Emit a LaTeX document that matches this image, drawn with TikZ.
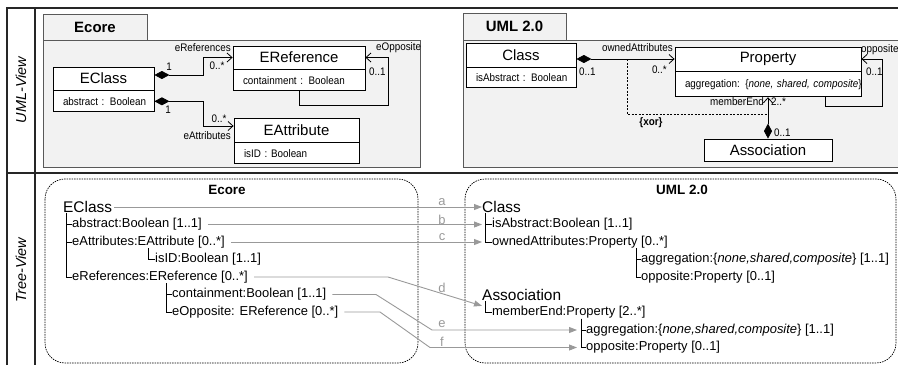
\documentclass[tikz,border=0pt]{standalone}
\usepackage{fontspec}
\setmainfont{Liberation Sans}
\newfontfamily\umlfont[FakeStretch=0.9]{Liberation Sans}
\usepackage{tikz}
\usetikzlibrary{arrows.meta,positioning}

\begin{document}
\begin{tikzpicture}[x=1bp,y=-1bp,
  frame/.style={line width=1.3bp,black!85},
  pkgbody/.style={draw=black!65,fill=black!5,line width=0.7bp},
  pkgtab/.style={draw=black!65,fill=black!5,line width=0.7bp,inner sep=0,font=\fontsize{15}{17}\selectfont\bfseries},
  umlname/.style={draw,fill=white,line width=0.8bp,inner sep=0,font=\fontsize{15}{17}\selectfont},
  umlattr/.style={draw,fill=white,line width=0.8bp,inner xsep=10bp,inner ysep=0,align=left,font=\umlfont\fontsize{11}{12}\selectfont},
  role/.style={inner sep=0,font=\umlfont\fontsize{11}{12}\selectfont},
  comp/.style={line width=0.8bp,{Diamond[length=15bp,width=8bp]}-{Straight Barb[length=5bp,width=9bp]}},
  assoc/.style={line width=0.8bp,-{Straight Barb[length=5bp,width=9bp]}},
  xorline/.style={line width=0.7bp,dash pattern=on 2bp off 1.5bp},
  rowlabel/.style={rotate=90,font=\fontsize{14.5}{16}\selectfont\itshape},
  dashbox/.style={line width=0.7bp,dash pattern=on 1.5bp off 1bp,rounded corners=20bp},
  treetitle/.style={inner sep=0,font=\fontsize{13.5}{15}\selectfont\bfseries},
  treeroot/.style={anchor=west,inner sep=0,font=\fontsize{15.5}{17}\selectfont},
  treeitem/.style={anchor=west,inner sep=0,font=\fontsize{13}{14}\selectfont},
  treeline/.style={line width=0.6bp},
  map/.style={draw=black!40,line width=0.9bp,-{Triangle[length=8bp,width=6bp]}},
  maplabel/.style={inner sep=0,text=black!40,font=\fontsize{13}{14}\selectfont}]
  \clip (0,0) rectangle (898,365);

  % frame and row labels
  \draw[frame] (7,365) |- (900,8);
  \draw[frame] (35,8) -- (35,365);
  \draw[frame] (7,173) -- (900,173);
  \node[rowlabel] (rowUml) at (21,90) {UML-View};
  \node[rowlabel] (rowTree) at (21,270) {Tree-View};

  % UML view: Ecore package
  \draw[pkgbody] (43,40) rectangle (420,167);
  \node[pkgtab,minimum width=104bp,minimum height=26bp] (ecoreTab) at (95,27) {Ecore};
  \node[umlname,minimum width=101bp,minimum height=23bp] (eClassBox) at (103.5,78.5) {EClass};
  \node[umlattr,text width=81bp,minimum height=21bp,below=0bp of eClassBox] (eClassAttr) {\mbox{abstract : Boolean}};
  \node[umlname,minimum width=132bp,minimum height=23bp] (eRefBox) at (299,57.5) {EReference};
  \node[umlattr,text width=112bp,minimum height=21bp,below=0bp of eRefBox] (eRefAttr) {\mbox{containment : Boolean}};
  \node[umlname,minimum width=125bp,minimum height=24bp] (eAttrBox) at (296.5,130) {EAttribute};
  \node[umlattr,text width=105bp,minimum height=21bp,below=0bp of eAttrBox] (eAttrAttr) {\mbox{isID : Boolean}};

  \draw[comp] ([yshift=3.5bp]eClassBox.east) -- ++(49,0) |- (eRefBox.west);
  \draw[comp] (eClassAttr.east) -- ++(49,0) |- ([yshift=4bp]eAttrBox.west);
  \draw[assoc] (eRefAttr.south) -- ++(0,14) -| ([xshift=23bp]eRefBox.east) -- (eRefBox.east);
  \node[role,anchor=east] (lblERefs) at (231,48) {eReferences};
  \node[role] (lblERefsOne) at (169,67) {1};
  \node[role] (lblERefsMul) at (217,66) {0..*};
  \node[role] (lblEAttrsOne) at (168,110) {1};
  \node[role] (lblEAttrsMul) at (219,119) {0..*};
  \node[role,anchor=east] (lblEAttrs) at (231,136) {eAttributes};
  \node[role,anchor=west] (lblEOpp) at (376,48) {eOpposite};
  \node[role,anchor=west] (lblEOppMul) at (369,72) {0..1};

  % UML view: UML 2.0 package
  \draw[pkgbody] (463,40) rectangle (910,167);
  \node[pkgtab,minimum width=103bp,minimum height=27bp] (umlTab) at (514.5,26.5) {UML 2.0};
  \node[umlname,minimum width=110bp,minimum height=24bp] (classBox) at (521,55) {Class};
  \node[umlattr,text width=90bp,minimum height=20bp,below=0bp of classBox] (classAttr) {\mbox{isAbstract : Boolean}};
  \node[umlname,minimum width=186bp,minimum height=24bp] (propBox) at (768,59) {Property};
  \node[umlattr,text width=166bp,minimum height=25bp,below=0bp of propBox] (propAttr) {\mbox{aggregation: \{\textit{none, shared, composite}\}}};
  \node[umlname,minimum width=128bp,minimum height=22bp] (assocBox) at (768,150) {Association};

  \coordinate (xorTop) at (627,59);
  \coordinate (xorEnd) at (768,114);
  \draw[xorline] (xorTop) |- (xorEnd);
  \draw[comp] (classBox.east |- propBox.west) -- (propBox.west);
  \draw[comp] (assocBox.north) -- (assocBox.north |- propAttr.south);
  \draw[assoc] ([xshift=57bp]propAttr.south) -- ++(0,9) -| ([xshift=21bp]propBox.east) -- (propBox.east);
  \node[role,anchor=east] (lblOwned) at (673,48) {ownedAttributes};
  \node[role,anchor=west] (lblOwnedOne) at (579,72) {0..1};
  \node[role,anchor=east] (lblOwnedMul) at (667,70) {0..*};
  \node[role,font=\umlfont\fontsize{11}{12}\selectfont\bfseries] (lblXor) at (651,123) {\{xor\}};
  \node[role,anchor=east] (lblMember) at (764,102) {memberEnd};
  \node[role,anchor=west] (lblMemberMul) at (771,102) {2..*};
  \node[role,anchor=west] (lblAssocMul) at (774,133) {0..1};
  \node[role,anchor=west] (lblOpp) at (861,50) {opposite};
  \node[role,anchor=west] (lblOppMul) at (866,72) {0..1};

  % Tree view
  \draw[dashbox] (45,179) rectangle (418,363);
  \draw[dashbox] (465,179) rectangle (896,363);
  \node[treetitle] (tEcoreTitle) at (227,190) {Ecore};
  \node[treetitle] (tUmlTitle) at (682,190) {UML 2.0};

  \node[treeroot] (tEClass) at (63,207) {EClass};
  \node[treeitem] (tAbstract) at (72,224.5) {abstract:Boolean [1..1]};
  \node[treeitem] (tEAttrs) at (72,242) {eAttributes:EAttribute [0..*]};
  \node[treeitem] (tIsID) at (155,259.5) {isID:Boolean [1..1]};
  \node[treeitem] (tERefs) at (72,277) {eReferences:EReference [0..*]};
  \node[treeitem] (tContain) at (172,294.5) {containment:Boolean [1..1]};
  \node[treeitem] (tEOpp) at (172,312) {eOpposite: EReference [0..*]};

  \node[treeroot] (tClass) at (482,207) {Class};
  \node[treeitem] (tIsAbs) at (492,224.5) {isAbstract:Boolean [1..1]};
  \node[treeitem] (tOwned) at (492,242) {ownedAttributes:Property [0..*]};
  \node[treeitem] (tAggr) at (641,259.5) {aggregation:\{\textit{none,shared,composite}\} [1..1]};
  \node[treeitem] (tOpp) at (641,277) {opposite:Property [0..1]};
  \node[treeroot] (tAssoc) at (482,295) {Association};
  \node[treeitem] (tMember) at (492,312.5) {memberEnd:Property [2..*]};
  \node[treeitem] (tAggrB) at (586,330) {aggregation:\{\textit{none,shared,composite}\} [1..1]};
  \node[treeitem] (tOppB) at (586,347.5) {opposite:Property [0..1]};

  \draw[treeline] ([xshift=3bp]tEClass.south west) |- (tAbstract.west);
  \draw[treeline] ([xshift=3bp]tEClass.south west) |- (tEAttrs.west);
  \draw[treeline] ([xshift=3bp]tEClass.south west) |- (tERefs.west);
  \draw[treeline] ([xshift=76bp]tEAttrs.south west) |- (tIsID.west);
  \draw[treeline] ([xshift=94bp]tERefs.south west) |- (tContain.west);
  \draw[treeline] ([xshift=94bp]tERefs.south west) |- (tEOpp.west);
  \draw[treeline] ([xshift=3bp]tClass.south west) |- (tIsAbs.west);
  \draw[treeline] ([xshift=3bp]tClass.south west) |- (tOwned.west);
  \draw[treeline] ([xshift=144bp]tOwned.south west) |- (tAggr.west);
  \draw[treeline] ([xshift=144bp]tOwned.south west) |- (tOpp.west);
  \draw[treeline] ([xshift=3bp]tAssoc.south west) |- (tMember.west);
  \draw[treeline] ([xshift=89bp]tMember.south west) |- (tAggrB.west);
  \draw[treeline] ([xshift=89bp]tMember.south west) |- (tOppB.west);

  % mappings
  \coordinate (dBend) at (388,0);
  \coordinate (eBend) at (376,0);
  \coordinate (fBend) at (380,0);
  \draw[map,shorten <=2bp] (tEClass.east) -- (tEClass.east -| tClass.west);
  \draw[map,shorten <=6bp,shorten >=10bp] (tAbstract.east) -- (tAbstract.east -| tIsAbs.west);
  \draw[map,shorten <=6bp,shorten >=10bp] (tEAttrs.east) -- (tEAttrs.east -| tOwned.west);
  \draw[map,shorten <=6bp] (tERefs.east) -- (tERefs.east -| dBend) -- ([yshift=-5bp]tAssoc.south west);
  \draw[map,shorten <=6bp] (tContain.east) -- (tContain.east -| eBend) -- ([xshift=-154bp]tAggrB.west) -- ([xshift=-9bp]tAggrB.west);
  \draw[map,shorten <=6bp] (tEOpp.east) -- (tEOpp.east -| fBend) -- ([xshift=-156bp]tOppB.west) -- ([xshift=-9bp]tOppB.west);
  \node[maplabel] (lblA) at (442,202.5) {a};
  \node[maplabel] (lblB) at (442,219.5) {b};
  \node[maplabel] (lblC) at (442,237) {c};
  \node[maplabel] (lblD) at (442,288) {d};
  \node[maplabel] (lblE) at (442,324) {e};
  \node[maplabel] (lblF) at (442,342) {f};
\end{tikzpicture}
\end{document}
